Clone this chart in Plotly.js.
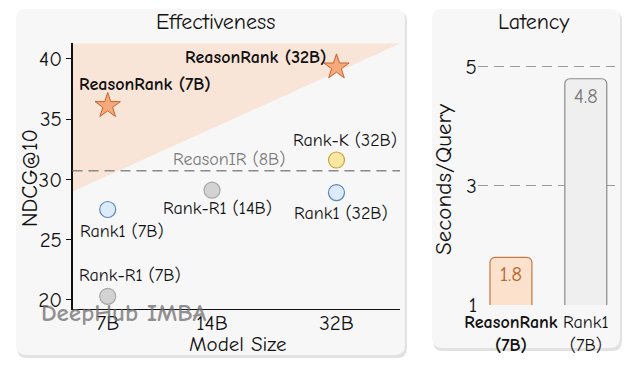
<!DOCTYPE html>
<html>
<head>
<meta charset="utf-8">
<script src="https://cdn.plot.ly/plotly-3.0.1.min.js"></script>
<style>html,body{margin:0;padding:0;background:#fff;}#chart{width:640px;height:368px;}</style>
</head>
<body>
<div id="chart"></div>
<script>
// ---- data ----
const sizeLabels = ['7B', '14B', '32B'];
const sizeValues = [7, 14, 32];
const ndcgTicks = [20, 25, 30, 35, 40];

const reasonRankSize = [7, 32];
const reasonRankNdcg = [36.1, 39.3];
const reasonRankNames = ['ReasonRank (7B)', 'ReasonRank (32B)'];

const rank1Size = [7, 32];
const rank1Ndcg = [27.5, 28.9];
const rank1Names = ['Rank1 (7B)', 'Rank1 (32B)'];

const rankR1Size = [7, 14];
const rankR1Ndcg = [20.3, 29.1];
const rankR1Names = ['Rank-R1 (7B)', 'Rank-R1 (14B)'];

const rankKSize = [32];
const rankKNdcg = [31.6];
const rankKNames = ['Rank-K (32B)'];

const reasonIRName = 'ReasonIR (8B)';
const reasonIRNdcg = 30.7;

const latencyModels = ['ReasonRank (7B)', 'Rank1 (7B)'];
const latencyTickText = ['<b>ReasonRank</b><br><b>(7B)</b>', 'Rank1<br>(7B)'];
const latencyValues = [1.8, 4.8];
const latencyTicks = [1, 3, 5];

// ---- helpers ----
const W = 640, H = 368;
const FONT = "'Comic Neue', 'Comic Sans MS', 'Noto Sans', sans-serif";
function px(x) { return x / W; }
function py(y) { return 1 - y / H; }
function roundRect(x0, y0, x1, y1, r) {
  const P = (x, y) => px(x).toFixed(5) + ',' + py(y).toFixed(5);
  return 'M' + P(x0 + r, y0) + ' L' + P(x1 - r, y0) + ' Q' + P(x1, y0) + ' ' + P(x1, y0 + r) +
    ' L' + P(x1, y1 - r) + ' Q' + P(x1, y1) + ' ' + P(x1 - r, y1) +
    ' L' + P(x0 + r, y1) + ' Q' + P(x0, y1) + ' ' + P(x0, y1 - r) +
    ' L' + P(x0, y0 + r) + ' Q' + P(x0, y0) + ' ' + P(x0 + r, y0) + ' Z';
}

const markerCircle = (fill, edge) => ({symbol: 'circle', size: 16, color: fill, line: {color: edge, width: 1.2}});

const traces = [
  {type: 'scatter', mode: 'markers', x: rankR1Size, y: rankR1Ndcg, xaxis: 'x', yaxis: 'y',
    marker: markerCircle('#d3d3d3', '#a8a8a8'), hoverinfo: 'skip'},
  {type: 'scatter', mode: 'markers', x: rank1Size, y: rank1Ndcg, xaxis: 'x', yaxis: 'y',
    marker: markerCircle('#dcebf9', '#5b87b5'), hoverinfo: 'skip'},
  {type: 'scatter', mode: 'markers', x: rankKSize, y: rankKNdcg, xaxis: 'x', yaxis: 'y',
    marker: markerCircle('#fbe6a2', '#c9a53c'), hoverinfo: 'skip'},
  {type: 'scatter', mode: 'markers', x: reasonRankSize, y: reasonRankNdcg, xaxis: 'x', yaxis: 'y',
    marker: {symbol: 'star', size: 19, color: '#f6a97c', line: {color: '#c8622c', width: 1}}, hoverinfo: 'skip'},
  {type: 'bar', x: latencyModels, y: latencyValues, xaxis: 'x2', yaxis: 'y2', width: 0.56,
    marker: {color: ['#fce1cc', '#efefef'], line: {color: ['#c27a48', '#8a8a8a'], width: 1.2}, cornerradius: 5},
    text: latencyValues.map(v => v.toFixed(1)), textposition: 'inside', insidetextanchor: 'end',
    textfont: {family: FONT, size: 21, color: ['#b8652f', '#7a7a7a']}, hoverinfo: 'skip'}
];

// label offsets (pixels) relative to each point
const labelOffsets = {
  'ReasonRank (7B)': [37, 21], 'ReasonRank (32B)': [-81, 10],
  'Rank1 (7B)': [14, -22], 'Rank1 (32B)': [5, -21],
  'Rank-R1 (7B)': [22, 21], 'Rank-R1 (14B)': [5, -18],
  'Rank-K (32B)': [9, 20]
};
const annotations = [];
function addLabels(names, xs, ys, bold) {
  names.forEach((n, i) => {
    const o = labelOffsets[n];
    annotations.push({xref: 'x', yref: 'y', x: Math.log10(xs[i]), y: ys[i], xshift: o[0], yshift: o[1],
      xanchor: 'center', yanchor: 'middle',
      text: bold ? '<b>' + n + '</b>' : n, showarrow: false,
      font: {family: FONT, size: 18, color: '#111'}});
  });
}
addLabels(reasonRankNames, reasonRankSize, reasonRankNdcg, true);
addLabels(rank1Names, rank1Size, rank1Ndcg, false);
addLabels(rankR1Names, rankR1Size, rankR1Ndcg, false);
addLabels(rankKNames, rankKSize, rankKNdcg, false);
annotations.push({xref: 'paper', yref: 'y', x: px(229), y: reasonIRNdcg, yshift: 11, xanchor: 'center', yanchor: 'middle',
  text: reasonIRName, showarrow: false, font: {family: FONT, size: 18, color: '#7a7a7a'}});

function paperText(text, x, y, size, angle) {
  annotations.push({xref: 'paper', yref: 'paper', x: px(x), y: py(y), xanchor: 'center', yanchor: 'middle',
    text: text, showarrow: false, textangle: angle || 0, font: {family: FONT, size: size, color: '#111'}});
}
paperText('Effectiveness', 215, 22, 22);
paperText('Latency', 533, 22, 22);
paperText('Model Size', 237, 344, 21);
paperText('NDCG@10', 30, 178, 22, -90);
paperText('Seconds/Query', 443, 179, 23, -90);
// watermark
annotations.push({xref: 'paper', yref: 'paper', x: px(124), y: py(312), xanchor: 'center', yanchor: 'middle',
  text: '<b>DeepHub IMBA</b>', showarrow: false,
  font: {family: FONT, size: 25, color: 'rgba(110,110,110,0.75)'}});

const shapes = [
  {type: 'path', xref: 'paper', yref: 'paper', path: roundRect(17, 11, 407, 358, 10), fillcolor: '#e2e2e2', line: {width: 0}, layer: 'below'},
  {type: 'path', xref: 'paper', yref: 'paper', path: roundRect(16, 9, 405, 355, 10), fillcolor: '#f7f7f7', line: {width: 0}, layer: 'below'},
  {type: 'path', xref: 'paper', yref: 'paper', path: roundRect(433, 11, 622, 351, 10), fillcolor: '#e2e2e2', line: {width: 0}, layer: 'below'},
  {type: 'path', xref: 'paper', yref: 'paper', path: roundRect(432, 9, 620, 348, 10), fillcolor: '#f7f7f7', line: {width: 0}, layer: 'below'},
  // better-than region
  {type: 'path', xref: 'paper', yref: 'y', path: 'M' + px(72.5) + ',29.0 L' + px(400) + ',41.25 L' + px(72.5) + ',41.25 Z',
    fillcolor: 'rgba(252,210,186,0.5)', line: {width: 0}, layer: 'below'},
  // ReasonIR reference line
  {type: 'line', xref: 'x domain', yref: 'y', x0: 0, x1: 1, y0: reasonIRNdcg, y1: reasonIRNdcg,
    line: {color: '#8a8a8a', width: 1.5, dash: '10px,6px'}}
];

const layout = {
  width: W, height: H, margin: {l: 0, r: 0, t: 0, b: 0, autoexpand: false},
  paper_bgcolor: '#ffffff', plot_bgcolor: 'rgba(0,0,0,0)', showlegend: false,
  font: {family: FONT, size: 16, color: '#111'},
  xaxis: {domain: [px(72.5), px(400)], type: 'log', range: [Math.log10(5.54), Math.log10(48.8)],
    tickvals: sizeValues, ticktext: sizeLabels, showline: true, linecolor: '#111', linewidth: 1.3,
    ticks: '', showgrid: false, zeroline: false, ticklabelstandoff: -6,
    tickfont: {family: FONT, size: 21, color: '#111'}, anchor: 'y'},
  yaxis: {domain: [py(309), py(43)], range: [19.25, 41.3], tickvals: ndcgTicks, showline: true,
    linecolor: '#111', linewidth: 1.3, ticks: 'outside', ticklen: 5, tickcolor: '#111', showgrid: false,
    zeroline: false, tickfont: {family: FONT, size: 21, color: '#111'}, anchor: 'x'},
  xaxis2: {domain: [px(478), px(615)], range: [-0.44, 1.39], type: 'category', showline: false, ticks: '',
    showgrid: false, zeroline: false, tickvals: latencyModels, ticktext: latencyTickText, ticklabelstandoff: 4,
    tickfont: {family: FONT, size: 18, color: '#111'}, anchor: 'y2'},
  yaxis2: {domain: [py(305), py(43)], range: [1, 5.4], tickvals: latencyTicks, showline: false, ticks: '',
    showgrid: true, gridcolor: '#9a9a9a', griddash: '10px,6px', gridwidth: 1, zeroline: false,
    tickfont: {family: FONT, size: 21, color: '#111'}, anchor: 'x2'},
  shapes: shapes, annotations: annotations
};

Plotly.newPlot('chart', traces, layout, {displayModeBar: false, staticPlot: true});
</script>
</body>
</html>
